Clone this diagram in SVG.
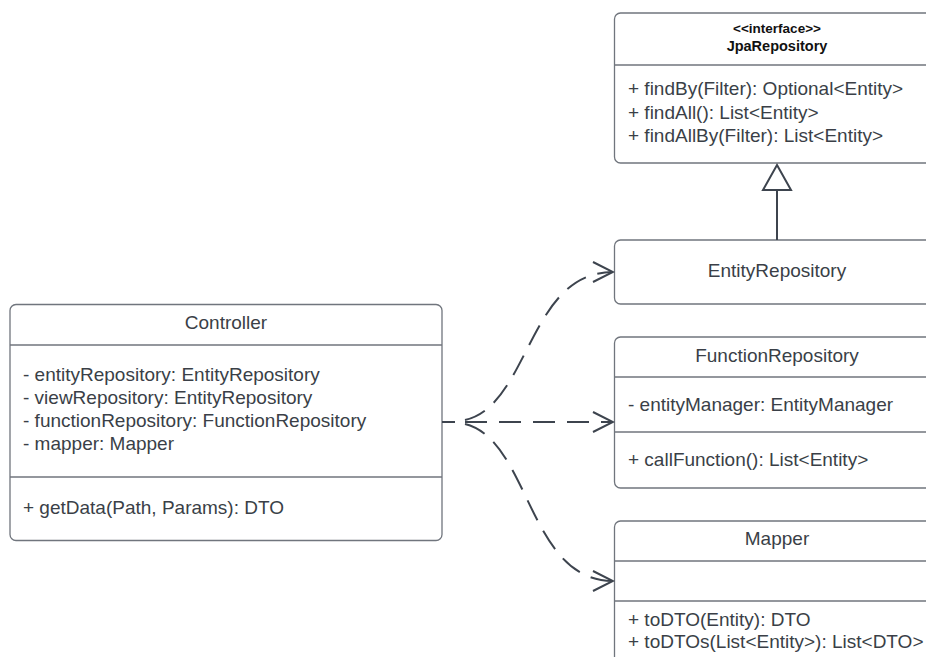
<svg xmlns="http://www.w3.org/2000/svg" width="926" height="657" viewBox="0 0 926 657">
<style>
.box{fill:#ffffff;stroke:#70757d;stroke-width:1.3}
.div{stroke:#70757d;stroke-width:1.3}
.t{font-family:"Liberation Sans",Arial,sans-serif;font-size:19px;fill:#3a3f47}
.c{text-anchor:middle}
.b{font-weight:bold;fill:#111111}
.s1{font-size:13.5px}
.s2{font-size:14.5px}
.conn{fill:none;stroke:#3d444e;stroke-width:2}
.dash{stroke-dasharray:22 12}
</style>
<defs>
<marker id="open" viewBox="0 0 24 24" refX="22" refY="12" markerWidth="24" markerHeight="24" markerUnits="userSpaceOnUse" orient="auto">
<path d="M2,2 L22,12 L2,22" fill="none" stroke="#3d444e" stroke-width="2"/>
</marker>
</defs>
<rect width="926" height="657" fill="#ffffff"/>

<g id="JpaRepository">
<rect class="box" x="614.5" y="13" width="326" height="150" rx="6"/>
<line class="div" x1="614.5" y1="65" x2="940" y2="65"/>
<text class="t c b s1" x="777" y="33">&lt;&lt;interface&gt;&gt;</text>
<text class="t c b s2" x="777" y="51">JpaRepository</text>
<text class="t" x="628" y="95">+ findBy(Filter): Optional&lt;Entity&gt;</text>
<text class="t" x="628" y="119">+ findAll(): List&lt;Entity&gt;</text>
<text class="t" x="628" y="142">+ findAllBy(Filter): List&lt;Entity&gt;</text>
</g>

<g id="EntityRepository">
<rect class="box" x="614.5" y="240" width="326" height="64" rx="6"/>
<text class="t c" x="777" y="277">EntityRepository</text>
</g>

<g id="FunctionRepository">
<rect class="box" x="614.5" y="337" width="326" height="151" rx="6"/>
<line class="div" x1="614.5" y1="377" x2="940" y2="377"/>
<line class="div" x1="614.5" y1="432" x2="940" y2="432"/>
<text class="t c" x="777" y="362">FunctionRepository</text>
<text class="t" x="628" y="411">- entityManager: EntityManager</text>
<text class="t" x="628" y="466">+ callFunction(): List&lt;Entity&gt;</text>
</g>

<g id="Mapper">
<rect class="box" x="614.5" y="521" width="326" height="160" rx="6"/>
<line class="div" x1="614.5" y1="561" x2="940" y2="561"/>
<line class="div" x1="614.5" y1="601" x2="940" y2="601"/>
<text class="t c" x="777" y="545">Mapper</text>
<text class="t" x="628" y="626">+ toDTO(Entity): DTO</text>
<text class="t" x="628" y="648">+ toDTOs(List&lt;Entity&gt;): List&lt;DTO&gt;</text>
</g>

<g id="Controller">
<rect class="box" x="10" y="304.5" width="432" height="236" rx="6"/>
<line class="div" x1="10" y1="345" x2="442" y2="345"/>
<line class="div" x1="10" y1="477" x2="442" y2="477"/>
<text class="t c" x="226" y="329">Controller</text>
<text class="t" x="23" y="381">- entityRepository: EntityRepository</text>
<text class="t" x="23" y="404">- viewRepository: EntityRepository</text>
<text class="t" x="23" y="427">- functionRepository: FunctionRepository</text>
<text class="t" x="23" y="450">- mapper: Mapper</text>
<text class="t" x="23" y="514">+ getData(Path, Params): DTO</text>
</g>

<g id="connectors">
<line class="conn" x1="442" y1="422" x2="455" y2="422"/>
<path class="conn dash" d="M465,420 C530,405 528,272 613,272" marker-end="url(#open)"/>
<path class="conn dash" d="M465,422 L613,422" marker-end="url(#open)"/>
<path class="conn dash" d="M465,424 C530,440 528,581 613,581" marker-end="url(#open)"/>
<line class="conn" x1="777" y1="240" x2="777" y2="190"/>
<path d="M777,165 L791,190 L763,190 Z" fill="#ffffff" stroke="#3d444e" stroke-width="2"/>
</g>
</svg>
